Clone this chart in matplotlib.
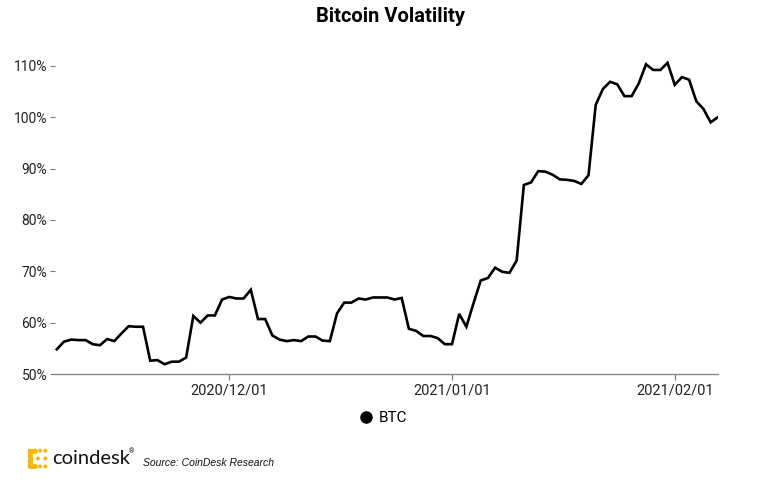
from datetime import date, timedelta

import matplotlib
matplotlib.use("Agg")
import matplotlib.dates as mdates
import matplotlib.pyplot as plt
from matplotlib.lines import Line2D
from matplotlib.patches import Circle


# 日度 BTC 波动率（%），2020-11-07 起
START_DATE = date(2020, 11, 7)
btc_volatility = [
    54.8, 56.3, 56.7, 56.6, 56.6, 55.8, 55.6, 56.8, 56.4, 57.9,
    59.3, 59.2, 59.2, 52.6, 52.7, 51.9, 52.4, 52.4, 53.2, 61.3,
    60.0, 61.4, 61.4, 64.5, 65.0, 64.7, 64.7, 66.4, 60.7, 60.7,
    57.5, 56.7, 56.4, 56.6, 56.4, 57.3, 57.3, 56.5, 56.4, 61.8,
    63.9, 63.9, 64.7, 64.5, 64.9, 64.9, 64.9, 64.5, 64.8, 58.8,
    58.4, 57.4, 57.4, 57.0, 55.8, 55.8, 61.7, 59.2, 63.8, 68.2,
    68.7, 70.7, 69.9, 69.7, 72.1, 86.8, 87.3, 89.5, 89.4, 88.8,
    87.9, 87.8, 87.6, 87.0, 88.7, 102.4, 105.5, 106.9, 106.4, 104.1,
    104.1, 106.6, 110.3, 109.2, 109.2, 110.6, 106.3, 107.8, 107.3, 103.1,
    101.6, 99.0, 100.0,
]
dates = [START_DATE + timedelta(days=i) for i in range(len(btc_volatility))]

y_ticks = [50, 60, 70, 80, 90, 100, 110]
y_tick_labels = [f"{v}%" for v in y_ticks]
x_ticks = [date(2020, 12, 1), date(2021, 1, 1), date(2021, 2, 1)]
x_tick_labels = ["2020/12/01", "2021/01/01", "2021/02/01"]

FONT = ["Roboto", "DejaVu Sans"]
plt.rcParams["font.family"] = FONT

W, H = 775, 487
fig = plt.figure(figsize=(W / 100, H / 100), dpi=100)
ax = fig.add_axes([55 / W, 1 - 374 / H, (718 - 55) / W, (374 - 53) / H])

ax.plot(dates, btc_volatility, color="black", linewidth=1.9,
        solid_joinstyle="miter")

ax.set_ylim(50, 112.5)
ax.set_xlim(mdates.date2num(START_DATE) - 0.25,
            mdates.date2num(dates[-1]) + 0.02)

ax.set_yticks(y_ticks)
ax.set_yticklabels(y_tick_labels, fontsize=10, color="#222222")
ax.set_xticks(x_ticks)
ax.set_xticklabels(x_tick_labels, fontsize=10.5, color="#222222")

ax.tick_params(axis="y", length=3.5, width=0.8, color="#777777", pad=2)
ax.tick_params(axis="x", length=4, width=0.8, color="#777777", pad=3)

for side in ["top", "right", "left"]:
    ax.spines[side].set_visible(False)
ax.spines["bottom"].set_color("#888888")
ax.spines["bottom"].set_linewidth(1.0)

fig.text(391 / W, 1 - 17 / H, "Bitcoin Volatility", ha="center", va="center",
         fontsize=14.5, fontweight="bold", color="black")

# 图例
handle = Line2D([], [], marker="o", color="black", linestyle="none",
                markersize=8)
fig.legend(handles=[handle], labels=["BTC"], loc="center",
           bbox_to_anchor=(383 / W, 1 - 418 / H), frameon=False,
           handletextpad=0.3, fontsize=11, handlelength=1.0)

# coindesk 标志（黄色点阵）
logo_ax = fig.add_axes([27 / W, 1 - 469 / H, 21 / W, 21 / H])
logo_ax.set_xlim(-0.5, 3.5)
logo_ax.set_ylim(-0.5, 3.5)
logo_ax.axis("off")
yellow = "#F6B70E"
logo_dots = [(0, 0), (0, 1), (0, 2), (0, 3), (1, 3), (2, 3), (3, 3),
             (1, 0), (2, 0), (3, 0), (3, 1.5), (1.6, 1.5)]
for dx, dy in logo_dots:
    logo_ax.add_patch(Circle((dx, dy), 0.38, color=yellow, lw=0))
logo_ax.plot([0, 0], [0, 3], color=yellow, linewidth=3.5,
             solid_capstyle="round")
logo_ax.plot([0, 1], [3, 3], color=yellow, linewidth=3.5,
             solid_capstyle="round")
logo_ax.plot([0, 1], [0, 0], color=yellow, linewidth=3.5,
             solid_capstyle="round")

fig.text(52 / W, 1 - 459 / H, "coindesk", ha="left", va="center",
         fontsize=14.5, color="#111111", family=["Lato", "DejaVu Sans"])
fig.text(129 / W, 1 - 452 / H, "®", ha="left", va="center",
         fontsize=5, color="#111111")
fig.text(143 / W, 1 - 463 / H, "Source: CoinDesk Research", ha="left",
         va="center", fontsize=7.5, style="italic", color="#111111",
         family=["Liberation Sans", "DejaVu Sans"])

fig.savefig("out.png", dpi=100, facecolor="white")
